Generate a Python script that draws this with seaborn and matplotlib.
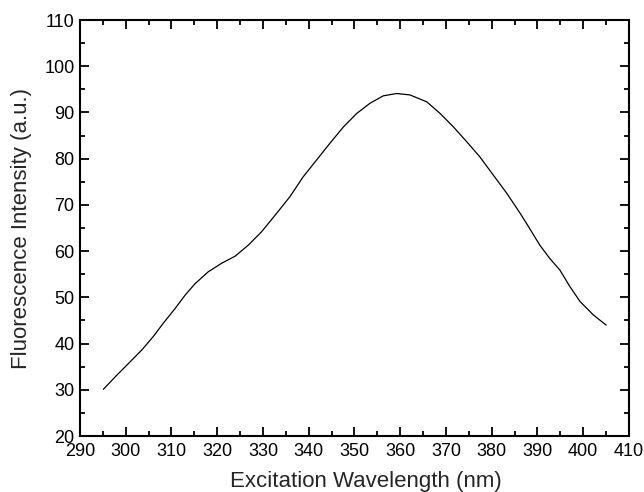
import numpy as np
import pandas as pd
import seaborn as sns
import matplotlib.pyplot as plt
from matplotlib.ticker import MultipleLocator


# titik-titik
wavelength = [295.1, 297.7, 300.6, 303.5, 306.0, 308.2, 310.8, 313.0, 315.1,
              318.0, 321.0, 323.9, 326.8, 329.7, 333.0, 335.9, 338.8, 341.7,
              344.6, 347.6, 350.5, 353.4, 356.3, 359.2, 362.1, 365.8, 368.7,
              371.6, 374.5, 377.4, 380.3, 383.3, 386.2, 387.6, 390.5, 392.7,
              394.9, 397.1, 399.3, 402.2, 405.0]
intensity = [30.1, 32.8, 35.7, 38.6, 41.5, 44.4, 47.6, 50.5, 52.9,
             55.5, 57.4, 58.9, 61.3, 64.2, 68.2, 71.8, 76.1, 79.7,
             83.3, 86.9, 89.8, 92.0, 93.6, 94.1, 93.8, 92.3, 89.8,
             86.9, 83.7, 80.4, 76.5, 72.5, 68.2, 66.0, 61.3, 58.4,
             55.9, 52.3, 49.1, 46.2, 44.0]

x_ticks = list(range(290, 411, 10))
y_ticks = list(range(20, 111, 10))

df = pd.DataFrame({'Wavelength': wavelength, 'Intensity': intensity})

sns.set_style('ticks')
plt.rcParams['font.family'] = ['Liberation Sans', 'DejaVu Sans']

fig = plt.figure(figsize=(6.44, 4.92), dpi=100)
ax = fig.add_axes([0.1242, 0.1138, 0.8525, 0.8455])

sns.lineplot(data=df, x='Wavelength', y='Intensity', color='black',
             linewidth=0.9, ax=ax, sort=False)

ax.set_xlim(290, 410)
ax.set_ylim(20, 110)
ax.set_xticks(x_ticks)
ax.set_yticks(y_ticks)
ax.xaxis.set_minor_locator(MultipleLocator(5))
ax.yaxis.set_minor_locator(MultipleLocator(5))

ax.tick_params(which='both', direction='in', top=True, right=True,
               width=1.3, colors='black')
ax.tick_params(which='major', length=6.5, labelsize=13)
ax.tick_params(which='minor', length=3.6)
ax.tick_params(axis='x', which='major', pad=5)
ax.tick_params(axis='y', which='major', pad=4)
for s in ax.spines.values():
    s.set_linewidth(1.5)
    s.set_color('black')

ax.set_xlabel('Excitation Wavelength (nm)', fontsize=16)
ax.set_ylabel('Fluorescence Intensity (a.u.)', fontsize=16)
ax.xaxis.set_label_coords(0.521, -0.085)
ax.yaxis.set_label_coords(-0.088, 0.5)

fig.savefig('out.png', dpi=100)
